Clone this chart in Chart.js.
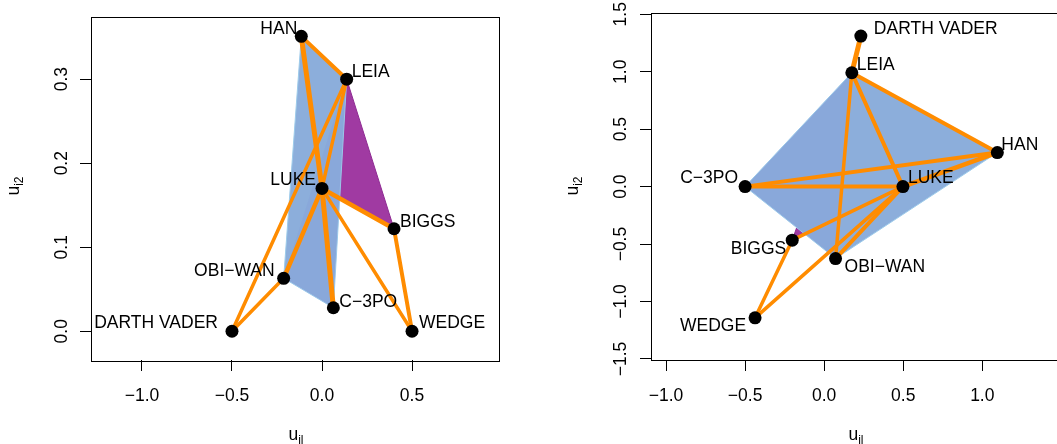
<!DOCTYPE html>
<html>
<head>
<meta charset="utf-8">
<script src="https://cdn.jsdelivr.net/npm/chart.js@4.4.0/dist/chart.umd.min.js"></script>
<style>
  html, body { margin:0; padding:0; background:#fff; overflow:hidden; }
  #wrap { position:relative; width:1057px; height:444px; overflow:hidden; }
  #left { position:absolute; left:0; top:0; }
  #right { position:absolute; left:530px; top:0; }
</style>
</head>
<body>
<div id="wrap">
  <canvas id="left" width="530" height="444"></canvas>
  <canvas id="right" width="560" height="444"></canvas>
</div>
<script>
// nodes: HAN, LEIA, LUKE, BIGGS, OBI-WAN, C-3PO, DARTH VADER, WEDGE
const names = ["HAN", "LEIA", "LUKE", "BIGGS", "OBI\u2212WAN", "C\u22123PO", "DARTH VADER", "WEDGE"];

const leftX  = [-0.115, 0.137, 0.000, 0.400, -0.213, 0.063, -0.500, 0.500];
const leftY  = [ 0.351, 0.300, 0.170, 0.122,  0.063, 0.028,  0.000, 0.000];
const rightX = [ 1.095, 0.175, 0.498, -0.202, 0.072, -0.500, 0.232, -0.437];
const rightY = [ 0.296, 0.991, 0.000, -0.466, -0.626, 0.000, 1.310, -1.142];

// edges: [from, to, weight]
const leftEdges = [[0,1,4],[0,2,5],[1,2,3.5],[1,6,3.5],[2,4,4.5],[2,5,5],[2,3,4.5],[2,7,3.5],[3,7,4],[4,6,3.5]];
const rightEdges = [[6,1,5],[1,0,4],[1,2,4],[1,4,3.5],[0,5,4],[0,2,4.5],[5,2,4],[2,3,3.5],[2,4,4],[2,7,3.5],[3,7,3.5]];

// group hulls (node indices)
const leftPurple = [1,2,3], leftBlue = [0,1,5,4], leftTint = [1,5,4];
const rightPurple = [1,3,2], rightBlue = [1,0,4,5], rightTint = [1,5,4];

// axes
const leftXRange = [-1.283, 0.983], leftYRange = [-0.0342, 0.3746];
const rightXRange = [-1.095, 1.485], rightYRange = [-1.509, 1.511];
const leftXTicks = [-1, -0.5, 0, 0.5], leftYTicks = [0, 0.1, 0.2, 0.3];
const rightXTicks = [-1, -0.5, 0, 0.5, 1], rightYTicks = [-1.5, -1, -0.5, 0, 0.5, 1, 1.5];

// label placement (dx, dy, align)
const leftLabelPos = [[-4,-7,'right'],[5,-7,'left'],[-6,-8,'right'],[6,-7,'left'],[-9,-7,'right'],[6,-6,'left'],[-14,-8,'right'],[7,-8,'left']];
const rightLabelPos = [[4,-7,'left'],[5,-8,'left'],[5,-8,'left'],[-6,9,'right'],[9,9,'left'],[-7,-8,'right'],[13,-7,'left'],[-9,8,'right']];

const FONT = 'Liberation Sans, Arial, sans-serif';
const FSIZE = 17.5;
const ORANGE = '#FF8C00';

function fmt(v) {
  return v.toFixed(1).replace('-', '\u2212');
}

function drawSub(ctx, x, y, main, sub, rotate) {
  ctx.save();
  ctx.translate(x, y);
  if (rotate) ctx.rotate(-Math.PI / 2);
  ctx.fillStyle = '#000';
  ctx.textBaseline = 'alphabetic';
  ctx.font = FSIZE + 'px ' + FONT;
  const w1 = ctx.measureText(main).width;
  ctx.font = '12px ' + FONT;
  const w2 = ctx.measureText(sub).width;
  const x0 = -(w1 + w2) / 2;
  ctx.font = FSIZE + 'px ' + FONT;
  ctx.textAlign = 'left';
  ctx.fillText(main, x0, 0);
  ctx.font = '12px ' + FONT;
  ctx.fillText(sub, x0 + w1, 4);
  ctx.restore();
}

function makePanel(id, xs, ys, edges, purple, blue, tint, xr, yr, xt, yt, labelPos, o) {
  const pt = i => ({x: xs[i], y: ys[i]});
  const poly = idx => idx.concat([idx[0]]).map(pt);
  const datasets = [];

  datasets.push({
    data: names.map((n, i) => pt(i)),
    pointRadius: 6.5, pointHoverRadius: 6.5,
    pointBackgroundColor: '#000', pointBorderWidth: 0,
    showLine: false, order: 0
  });
  edges.forEach(e => {
    datasets.push({
      data: [pt(e[0]), pt(e[1])],
      showLine: true, borderColor: ORANGE, borderWidth: e[2],
      borderCapStyle: 'round', pointRadius: 0, fill: false, order: 1
    });
  });
  datasets.push({
    data: poly(tint), showLine: true, fill: 'shape',
    backgroundColor: 'rgba(110,80,200,0.06)', borderWidth: 0, pointRadius: 0, order: 2
  });
  datasets.push({
    data: poly(blue), showLine: true, fill: 'shape',
    backgroundColor: '#8CAEDB', borderColor: '#9DCBEA', borderWidth: 1, pointRadius: 0, order: 3
  });
  datasets.push({
    data: poly(purple), showLine: true, fill: 'shape',
    backgroundColor: '#A03AA2', borderColor: '#8E2A92', borderWidth: 1, pointRadius: 0, order: 4
  });

  const extras = {
    id: 'extras',
    afterDatasetsDraw(chart) {
      const ctx = chart.ctx;
      const a = chart.chartArea;
      const sx = chart.scales.x, sy = chart.scales.y;
      ctx.save();
      ctx.strokeStyle = '#000';
      ctx.lineWidth = 1;
      ctx.strokeRect(Math.round(a.left) + 0.5, Math.round(a.top) + 0.5,
        Math.round(a.right - a.left), Math.round(a.bottom - a.top));
      ctx.fillStyle = '#000';
      ctx.font = FSIZE + 'px ' + FONT;
      ctx.textBaseline = 'middle';
      names.forEach((n, i) => {
        const p = labelPos[i];
        ctx.textAlign = p[2];
        ctx.fillText(n, sx.getPixelForValue(xs[i]) + p[0], sy.getPixelForValue(ys[i]) + p[1]);
      });
      ctx.restore();
      drawSub(ctx, o.xTitle[0], o.xTitle[1], 'u', 'il', false);
      drawSub(ctx, o.yTitle[0], o.yTitle[1], 'u', 'i2', true);
    }
  };

  const tickFont = {family: FONT, size: FSIZE};
  new Chart(document.getElementById(id), {
    type: 'scatter',
    data: {datasets},
    plugins: [extras],
    options: {
      responsive: false,
      animation: false,
      events: [],
      layout: {padding: {top: 13, right: o.padRight, left: 0, bottom: 0}},
      plugins: {legend: {display: false}, tooltip: {enabled: false}},
      scales: {
        x: {
          type: 'linear', min: xr[0], max: xr[1],
          afterBuildTicks: s => { s.ticks = xt.map(v => ({value: v})); },
          afterFit: s => { s.height = 84; },
          grid: {drawOnChartArea: false, drawTicks: true, tickLength: 11, color: '#000', lineWidth: 1},
          border: {display: false},
          ticks: {font: tickFont, color: '#000', padding: 15, maxRotation: 0, autoSkip: false, callback: v => fmt(v)}
        },
        y: {
          type: 'linear', min: yr[0], max: yr[1],
          afterBuildTicks: s => { s.ticks = yt.map(v => ({value: v})); },
          afterFit: s => { s.width = o.yWidth; },
          grid: {drawOnChartArea: false, drawTicks: true, tickLength: 11, color: '#000', lineWidth: 1},
          border: {display: false},
          ticks: {font: tickFont, color: '#000', padding: o.yPad, minRotation: 90, maxRotation: 90,
            crossAlign: 'center', autoSkip: false, callback: v => fmt(v)}
        }
      }
    }
  });
}

makePanel('left', leftX, leftY, leftEdges, leftPurple, leftBlue, leftTint,
  leftXRange, leftYRange, leftXTicks, leftYTicks, leftLabelPos,
  {padRight: 31, yWidth: 91, yPad: 6, xTitle: [296, 440], yTitle: [19, 186]});

makePanel('right', rightX, rightY, rightEdges, rightPurple, rightBlue, rightTint,
  rightXRange, rightYRange, rightXTicks, rightYTicks, rightLabelPos,
  {padRight: 31, yWidth: 121, yPad: 2, xTitle: [326, 440], yTitle: [48, 186]});
</script>
</body>
</html>
